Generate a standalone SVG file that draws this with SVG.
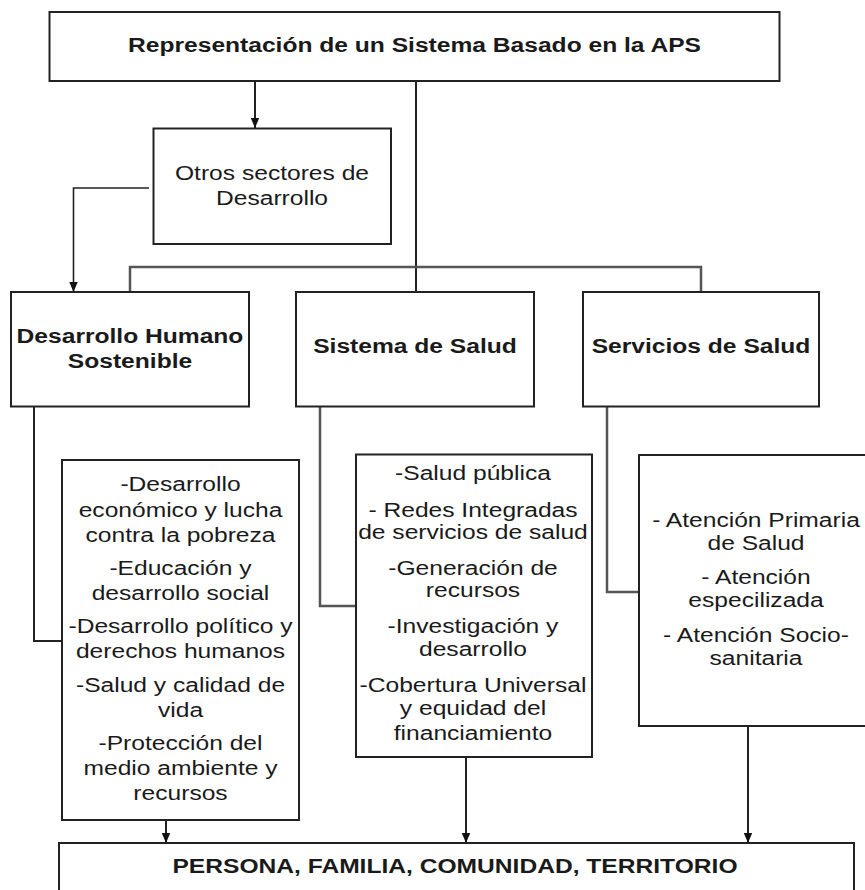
<svg xmlns="http://www.w3.org/2000/svg" width="865" height="890" viewBox="0 0 865 890">
<style>
.box{fill:#fff;stroke:#222;stroke-width:2}
.ln{fill:none;stroke:#222;stroke-width:2}
.gl{fill:none;stroke:#555;stroke-width:2.5}
text{font-family:"Liberation Sans",Arial,sans-serif;font-size:20px;fill:#1a1a1a;text-anchor:middle}
.b{font-weight:bold}
</style>
<defs>
<marker id="ar" markerUnits="userSpaceOnUse" markerWidth="10" markerHeight="10" refX="10" refY="5" orient="auto">
<path d="M0,0.8 L10,5 L0,9.2 z" fill="#111"/>
</marker>
</defs>
<rect width="865" height="890" fill="#fff"/>
<g id="connectors">
<line class="ln" x1="255" y1="81" x2="255" y2="128" marker-end="url(#ar)"/>
<line class="ln" x1="416" y1="81" x2="416" y2="292"/>
<polyline class="gl" points="130,292 130,267 701,267 701,292"/>
<polyline class="ln" points="149,188 73.5,188 73.5,292" marker-end="url(#ar)" style="stroke-width:1.6"/>
<polyline class="ln" points="34,407 34,641 62,641"/>
<polyline class="gl" points="320,407 320,606 356,606"/>
<polyline class="gl" points="607,407 607,592 639,592"/>
<line class="ln" x1="166" y1="820" x2="166" y2="843" marker-end="url(#ar)"/>
<line class="ln" x1="466" y1="757" x2="466" y2="843" marker-end="url(#ar)"/>
<line class="ln" x1="748" y1="726" x2="748" y2="843" marker-end="url(#ar)"/>
</g>
<g id="title">
<rect class="box" x="49.5" y="12" width="730" height="69"/>
<g transform="translate(414.5,0) scale(1.23,1)"><text class="b" x="0" y="52">Representación de un Sistema Basado en la APS</text></g>
</g>
<g id="otros">
<rect class="box" x="153.5" y="128.5" width="237.5" height="115.5"/>
<g transform="translate(272,0) scale(1.23,1)">
<text x="0" y="180">Otros sectores de</text>
<text x="0" y="205">Desarrollo</text>
</g>
</g>
<g id="dhs">
<rect class="box" x="11" y="292" width="238" height="114.5"/>
<g transform="translate(130,0) scale(1.23,1)">
<text class="b" x="0" y="343">Desarrollo Humano</text>
<text class="b" x="0" y="368">Sostenible</text>
</g>
</g>
<g id="sistema">
<rect class="box" x="296" y="292" width="238" height="114.5"/>
<g transform="translate(415,0) scale(1.23,1)"><text class="b" x="0" y="353">Sistema de Salud</text></g>
</g>
<g id="servicios">
<rect class="box" x="583" y="292" width="236" height="114.5"/>
<g transform="translate(701,0) scale(1.23,1)"><text class="b" x="0" y="353">Servicios de Salud</text></g>
</g>
<g id="detalle-dhs">
<rect class="box" x="62" y="460" width="237" height="360"/>
<g transform="translate(180.5,0) scale(1.23,1)">
<text x="0" y="491">-Desarrollo</text>
<text x="0" y="517">económico y lucha</text>
<text x="0" y="542">contra la pobreza</text>
<text x="0" y="575">-Educación y</text>
<text x="0" y="600">desarrollo social</text>
<text x="0" y="633">-Desarrollo político y</text>
<text x="0" y="658">derechos humanos</text>
<text x="0" y="692">-Salud y calidad de</text>
<text x="0" y="717">vida</text>
<text x="0" y="750">-Protección del</text>
<text x="0" y="775">medio ambiente y</text>
<text x="0" y="800">recursos</text>
</g>
</g>
<g id="detalle-sistema">
<rect class="box" x="356" y="454.5" width="236" height="302.5"/>
<g transform="translate(473,0) scale(1.23,1)">
<text x="0" y="480">-Salud pública</text>
<text x="0" y="517">- Redes Integradas</text>
<text x="0" y="539">de servicios de salud</text>
<text x="0" y="575">-Generación de</text>
<text x="0" y="597">recursos</text>
<text x="0" y="633">-Investigación y</text>
<text x="0" y="656">desarrollo</text>
<text x="0" y="692">-Cobertura Universal</text>
<text x="0" y="715">y equidad del</text>
<text x="0" y="740">financiamiento</text>
</g>
</g>
<g id="detalle-servicios">
<rect class="box" x="639" y="455" width="230" height="271"/>
<g transform="translate(756,0) scale(1.23,1)">
<text x="0" y="527">- Atención Primaria</text>
<text x="0" y="550">de Salud</text>
<text x="0" y="584">- Atención</text>
<text x="0" y="607">especilizada</text>
<text x="0" y="642">- Atención Socio-</text>
<text x="0" y="665">sanitaria</text>
</g>
</g>
<g id="persona">
<rect class="box" x="59" y="843" width="795" height="60"/>
<g transform="translate(455,0) scale(1.23,1)"><text class="b" x="0" y="873">PERSONA, FAMILIA, COMUNIDAD, TERRITORIO</text></g>
</g>
</svg>
